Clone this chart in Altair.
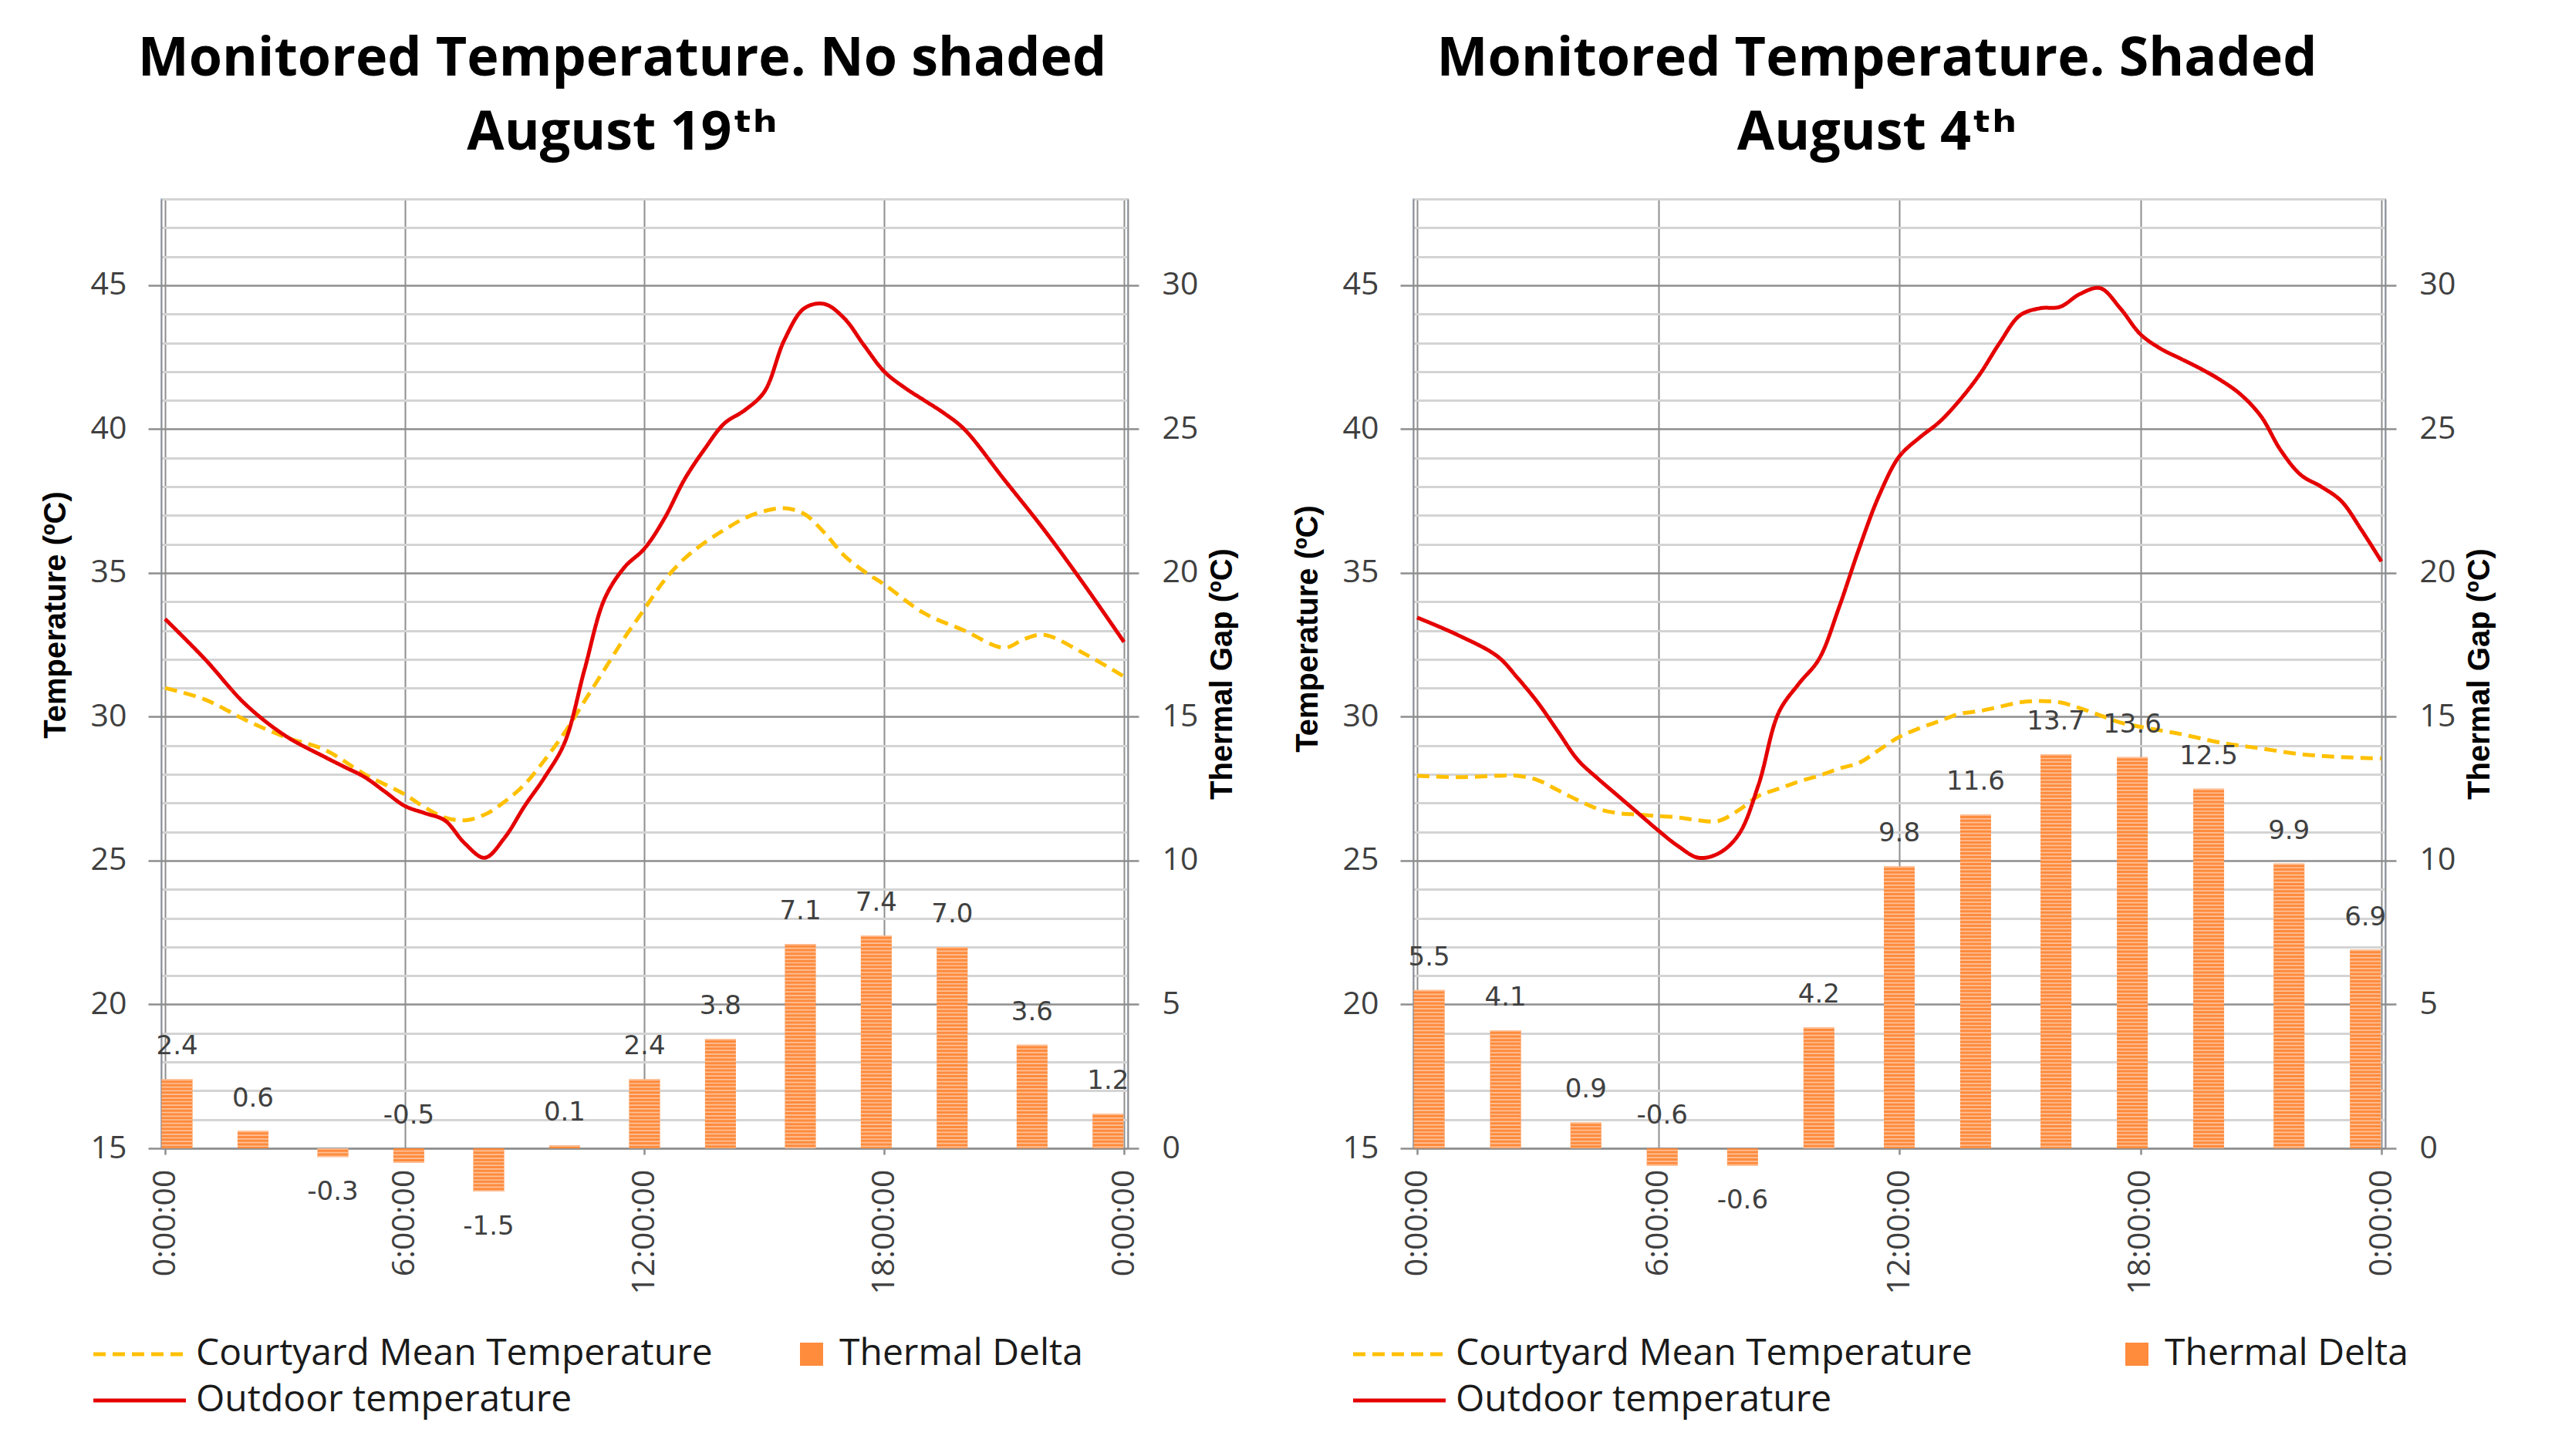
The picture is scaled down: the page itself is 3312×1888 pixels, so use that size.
import pandas as pd
import altair as alt

# ---- data ----------------------------------------------------------------
SERIES = ["Courtyard Mean Temperature", "Outdoor temperature"]
BAR_NAME = "Thermal Delta"

# bar centres (hours) and thermal delta values
BAR_HOURS = [0.3, 2.2, 4.2, 6.1, 8.1, 10.0, 12.0, 13.9, 15.9, 17.8, 19.7, 21.7, 23.6]
DELTA_NS = [2.4, 0.6, -0.3, -0.5, -1.5, 0.1, 2.4, 3.8, 7.1, 7.4, 7.0, 3.6, 1.2]
DELTA_S = [5.5, 4.1, 0.9, -0.6, -0.6, 4.2, 9.8, 11.6, 13.7, 13.6, 12.5, 9.9, 6.9]

# August 19th, no shade
OUT_H_NS = [0, 1, 2, 3, 4, 4.5, 5, 5.5, 6, 6.5, 7, 7.5, 8, 8.5, 9, 9.5, 10, 10.5, 11, 11.5,
            12, 12.5, 13, 13.5, 14, 14.5, 15, 15.5, 16, 16.5, 17, 17.5, 18, 18.5, 19, 19.5,
            20, 21, 22, 23, 24]
OUT_T_NS = [33.4, 32.0, 30.45, 29.35, 28.6, 28.25, 27.9, 27.4, 26.9, 26.65, 26.4, 25.6, 25.1,
            25.8, 26.9, 27.9, 29.1, 31.65, 34.1, 35.2, 35.85, 36.9, 38.25, 39.3, 40.2, 40.65,
            41.3, 43.1, 44.2, 44.35, 43.85, 42.9, 42.0, 41.45, 41.0, 40.55, 40.0, 38.25, 36.5,
            34.6, 32.6]
YARD_H_NS = [0, 1, 2, 3, 4, 5, 6, 6.5, 7, 7.5, 8, 8.5, 9, 9.5, 10, 10.5, 11, 11.5, 12, 12.5,
             13, 13.5, 14, 14.5, 15, 15.5, 16, 16.5, 17, 17.5, 18, 19, 20, 21, 21.5, 22, 23, 24]
YARD_T_NS = [31.0, 30.6, 29.9, 29.3, 28.85, 28.0, 27.3, 26.85, 26.5, 26.4, 26.6, 27.05, 27.65,
             28.5, 29.45, 30.55, 31.65, 32.75, 33.75, 34.75, 35.5, 36.05, 36.5, 36.9, 37.15,
             37.25, 37.05, 36.4, 35.6, 35.05, 34.6, 33.6, 33.0, 32.4, 32.7, 32.85, 32.2, 31.4]

# August 4th, shaded
OUT_H_S = [0, 1, 2, 2.5, 3, 3.5, 4, 4.5, 5, 5.5, 6, 6.5, 7, 7.5, 8, 8.5, 9, 9.5, 10, 10.5,
           11, 11.5, 12, 12.5, 13, 13.5, 14, 14.5, 15, 15.5, 16, 16.5, 17, 17.5, 18, 18.5,
           19, 19.5, 20, 20.5, 21, 21.5, 22, 22.5, 23, 23.5, 24]
OUT_T_S = [33.45, 32.85, 32.1, 31.35, 30.5, 29.5, 28.5, 27.85, 27.25, 26.65, 26.05, 25.5, 25.1,
           25.25, 25.9, 27.65, 30.15, 31.15, 32.0, 33.8, 35.85, 37.7, 39.05, 39.7, 40.25, 41.0,
           41.9, 43.0, 43.95, 44.2, 44.25, 44.7, 44.9, 44.2, 43.3, 42.8, 42.45, 42.1, 41.7,
           41.2, 40.45, 39.25, 38.4, 38.0, 37.5, 36.5, 35.4]
YARD_H_S = [0, 1, 2, 2.5, 3, 3.5, 4, 4.5, 5, 5.5, 6, 6.5, 7, 7.5, 8, 8.5, 9, 9.5, 10, 10.5,
            11, 11.5, 12, 12.5, 13, 13.5, 14, 14.5, 15, 15.5, 16, 16.5, 17, 17.5, 18, 19, 20,
            21, 22, 23, 24]
YARD_T_S = [27.95, 27.9, 27.95, 27.95, 27.8, 27.45, 27.1, 26.8, 26.65, 26.6, 26.55, 26.5, 26.4,
            26.38, 26.75, 27.25, 27.5, 27.75, 27.95, 28.2, 28.4, 28.85, 29.3, 29.6, 29.85, 30.1,
            30.2, 30.35, 30.5, 30.55, 30.5, 30.3, 30.05, 29.8, 29.65, 29.4, 29.1, 28.9, 28.7,
            28.6, 28.55]

X_TICKS = [0, 6, 12, 18, 24]
X_LABELS = ["0:00:00", "6:00:00", "12:00:00", "18:00:00", "0:00:00"]

# ---- style ----------------------------------------------------------------
RED = "#E50000"
YELLOW = "#FFC000"
ORANGE = "#FF8B3D"
STRIPE = "#FDC199"
MAJOR = "#8E8E8E"
MINOR = "#D4D4D4"
TEXT = "#404040"
FONT = "Open Sans"
LEGEND_Y = 1474

x_label_expr = "{}[indexof({}, datum.value)]".format(
    "[" + ",".join("'%s'" % s for s in X_LABELS) + "]", X_TICKS)


def make_panel(title, out_h, out_t, yard_h, yard_t, delta, width, title_y, bar_legend_x,
               line_legend_x):
    lines = pd.DataFrame({
        "hour": yard_h + out_h,
        "temp": yard_t + out_t,
        "series": [SERIES[0]] * len(yard_h) + [SERIES[1]] * len(out_h),
    })
    bars = pd.DataFrame({"hour": BAR_HOURS, "gap": delta, "bar_series": BAR_NAME})
    bars["label"] = bars["gap"].map(lambda v: "%.1f" % v)
    # the small negative bar at 6:00 has its label lifted above the axis
    bars["up"] = (bars["gap"] >= 0) | (bars.index == 3)
    bars["anchor"] = bars["gap"].where(bars["gap"] > 0, 0)
    bars.loc[~bars["up"], "anchor"] = bars.loc[~bars["up"], "gap"]

    x_enc = alt.X("hour:Q", scale=alt.Scale(domain=[0, 24], nice=False, zero=False),
                  axis=alt.Axis(values=X_TICKS, labelExpr=x_label_expr, title=None,
                                labelAngle=270, tickSize=8, labelPadding=19, grid=True,
                                gridColor=MAJOR, gridWidth=2))
    gap_scale = alt.Scale(domain=[0, 33], nice=False, zero=False)
    major = "datum.value % 5 === 0"

    # long flat path symbol: 8 units wide, drawn at sqrt(size)/2 per unit
    line_legend = alt.Legend(title=None, orient="none", legendX=line_legend_x, legendY=LEGEND_Y,
                             direction="vertical", symbolType="M-4,0H4", symbolSize=900,
                             symbolStrokeWidth=5, labelFont=FONT, labelFontSize=48,
                             labelColor="#1a1a1a", labelOffset=49, rowPadding=12,
                             padding=0, labelLimit=0)

    bar_layer = alt.Chart(bars).mark_bar(size=40).encode(
        x=x_enc,
        y=alt.Y("gap:Q", scale=gap_scale,
                axis=alt.Axis(values=[0, 5, 10, 15, 20, 25, 30], orient="right",
                              title="Thermal Gap (ºC)", grid=False, titleAngle=270,
                              titleBaseline="top", tickSize=14, labelPadding=30,
                              titlePadding=12)),
        y2=alt.datum(0),
        fill=alt.Fill("bar_series:N", scale=alt.Scale(domain=[BAR_NAME], range=[ORANGE]),
                      legend=alt.Legend(title=None, orient="none", legendX=bar_legend_x,
                                        legendY=LEGEND_Y, symbolType="square", symbolSize=900,
                                        symbolStrokeWidth=0, labelFont=FONT,
                                        labelFontSize=48, labelColor="#1a1a1a",
                                        labelOffset=12, padding=0, labelLimit=0)),
    )
    stripes = alt.Chart(bars).mark_rule(strokeWidth=40, strokeDash=[1.7, 3.0],
                                        strokeCap="butt", color=STRIPE).encode(
        x=x_enc,
        y=alt.Y("gap:Q", scale=gap_scale, axis=None),
        y2=alt.datum(0),
    )
    line_layer = alt.Chart(lines).mark_line(strokeWidth=5, interpolate="catmull-rom").encode(
        x=x_enc,
        y=alt.Y("temp:Q", scale=alt.Scale(domain=[15, 48], nice=False, zero=False),
                axis=alt.Axis(values=list(range(15, 49)), orient="left",
                              title="Temperature (ºC)", titleY=title_y,
                              labelExpr=major + " ? datum.label : ''",
                              grid=True,
                              gridColor={"condition": {"test": major, "value": MAJOR},
                                         "value": MINOR},
                              gridWidth={"condition": {"test": major, "value": 2.5},
                                         "value": 3},
                              tickColor={"condition": {"test": major, "value": MAJOR},
                                         "value": "transparent"},
                              tickSize=17, labelPadding=28, titlePadding=25)),
        color=alt.Color("series:N", scale=alt.Scale(domain=SERIES, range=[YELLOW, RED]),
                        legend=line_legend),
        strokeDash=alt.StrokeDash("series:N",
                                  scale=alt.Scale(domain=SERIES, range=[[16, 9], [1, 0]]),
                                  legend=line_legend),
        order=alt.Order("hour:Q"),
    )
    text_style = dict(font="DejaVu Sans", fontSize=34, color=TEXT, baseline="middle")
    labels_up = alt.Chart(bars).transform_filter("datum.up").mark_text(
        dy=-42, **text_style).encode(
        x=x_enc, y=alt.Y("anchor:Q", scale=gap_scale, axis=None), text="label:N")
    labels_down = alt.Chart(bars).transform_filter("!datum.up").mark_text(
        dy=46, **text_style).encode(
        x=x_enc, y=alt.Y("anchor:Q", scale=gap_scale, axis=None), text="label:N")

    return alt.layer(bar_layer, stripes, line_layer, labels_up, labels_down).resolve_scale(
        y="independent"
    ).properties(
        width=width, height=1231,
        title=alt.TitleParams(text=title, font="Open Sans, DejaVu Sans", fontSize=70,
                              fontWeight="bold", color="black", lineHeight=96,
                              anchor="middle", frame="group", dx=-29, offset=48),
    )


left = make_panel(["Monitored Temperature. No shaded", "August 19ᵗʰ"],
                  OUT_H_NS, OUT_T_NS, YARD_H_NS, YARD_T_NS, DELTA_NS,
                  width=1253, title_y=539, bar_legend_x=819, line_legend_x=-52)
right = make_panel(["Monitored Temperature. Shaded", "August 4ᵗʰ"],
                   OUT_H_S, OUT_T_S, YARD_H_S, YARD_T_S, DELTA_S,
                   width=1260, title_y=557, bar_legend_x=914, line_legend_x=-42)

chart = alt.hconcat(left, right, spacing=68).resolve_scale(
    color="independent", strokeDash="independent", fill="independent"
).properties(
    padding={"left": 43, "top": 32, "right": 10, "bottom": 10},
    background="white",
).configure_view(
    stroke="#B4C7E7", strokeWidth=2
).configure_axis(
    labelFont=FONT, labelFontSize=41, labelColor=TEXT,
    titleFont="Liberation Sans", titleFontSize=40, titleFontWeight="bold", titleColor="black",
    domainColor=MAJOR, domainWidth=2, tickColor=MAJOR, tickWidth=2.5,
)

chart.save("out.html", embed_options={"renderer": "svg", "actions": False})
